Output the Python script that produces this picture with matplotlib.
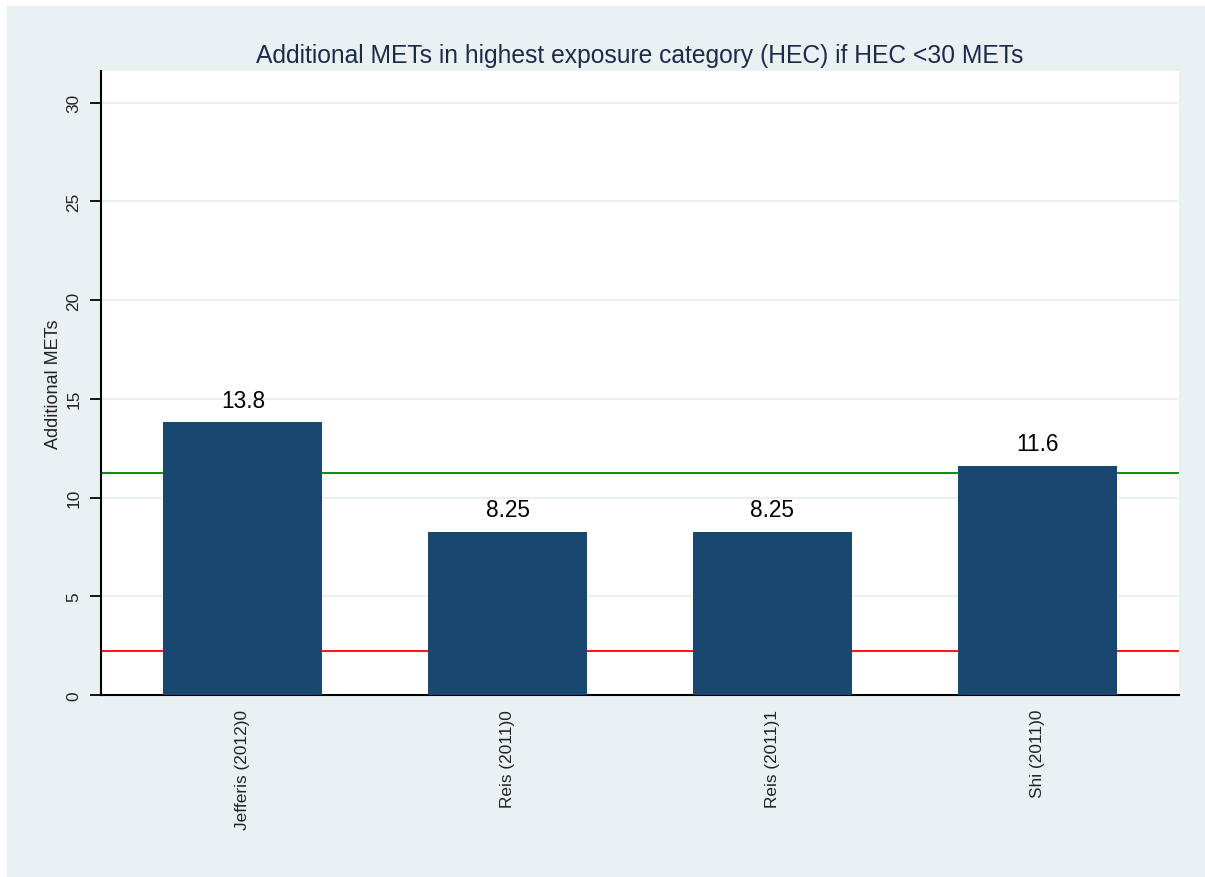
import matplotlib.pyplot as plt
from matplotlib.patches import Rectangle

plt.rcParams['font.family'] = ['Liberation Sans', 'DejaVu Sans']

studies = ["Jefferis (2012)0", "Reis (2011)0", "Reis (2011)1", "Shi (2011)0"]
add_mets = [13.8, 8.25, 8.25, 11.6]
labels = ["13.8", "8.25", "8.25", "11.6"]
green_ref = 11.25
red_ref = 2.25
yticks = [0, 5, 10, 15, 20, 25, 30]

W, H = 1205, 878
bg = "#eaf1f3"
fig = plt.figure(figsize=(W / 100, H / 100), dpi=100, facecolor="white")
fig.patches.append(Rectangle((7 / W, 0), 1, 1 - 7 / H, transform=fig.transFigure,
                             facecolor=bg, edgecolor="none", zorder=-10))

ax = fig.add_axes([101 / W, 1 - 696 / H, (1179 - 101) / W, (696 - 72) / H])
ax.set_facecolor("white")

x = range(len(studies))
ax.bar(x, add_mets, width=0.6, color="#1a476f", zorder=3)
for xi, v, t in zip(x, add_mets, labels):
    ax.text(xi, v + 0.55, t, ha="center", va="bottom", fontsize=16.3, color="black", zorder=4)

ax.axhline(green_ref, color="#008000", lw=1.3, zorder=2)
ax.axhline(red_ref, color="#ff0000", lw=1.3, zorder=2)

ax.set_xlim(-0.536, 3.536)
ax.set_ylim(0, 31.6)
ax.set_yticks(yticks)
ax.set_yticklabels([str(t) for t in yticks], rotation=90, va="center", fontsize=12.4, color="#222222")
ax.set_xticks(list(x))
ax.set_xticklabels(studies, rotation=90, fontsize=12.4, color="#222222")
ax.tick_params(axis="x", length=0, pad=10)
ax.tick_params(axis="y", length=8, width=1.3, pad=6)
ax.yaxis.grid(True, color=bg, lw=1.5, zorder=1)
ax.set_axisbelow(True)

for s in ["top", "right"]:
    ax.spines[s].set_visible(False)
ax.spines["left"].set_linewidth(1.5)
ax.spines["bottom"].set_linewidth(1.5)

ax.set_ylabel("Additional METs", fontsize=13, color="#222222", labelpad=3.5)
fig.text(640 / W, 1 - 56 / H, "Additional METs in highest exposure category (HEC) if HEC <30 METs",
         ha="center", va="center", fontsize=17.7, color="#1c2a4c")

fig.savefig("out.png", dpi=100, facecolor=fig.get_facecolor())
